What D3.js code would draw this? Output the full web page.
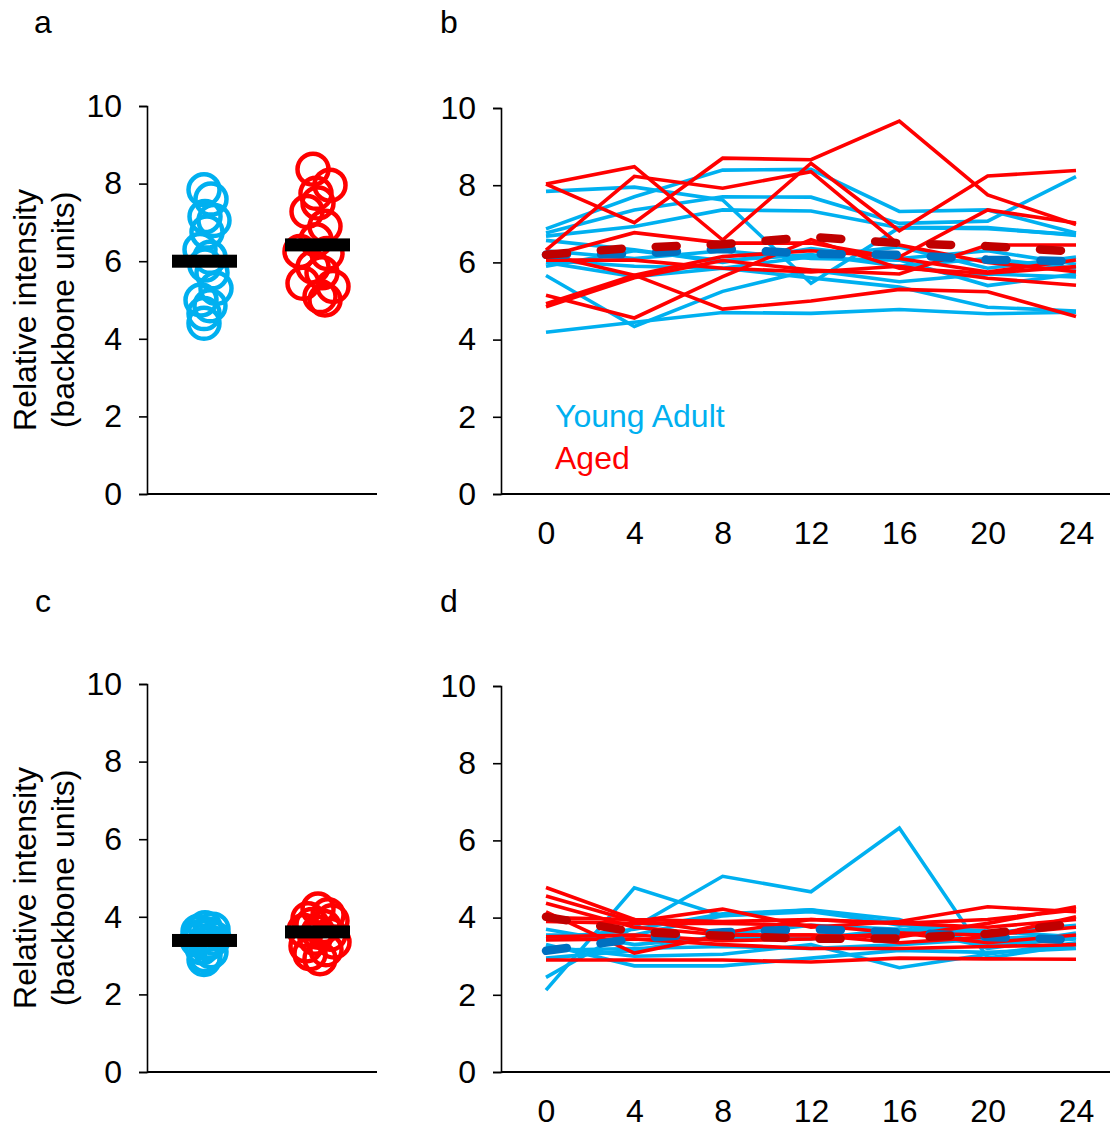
<!DOCTYPE html>
<html>
<head>
<meta charset="utf-8">
<script src="https://cdn.jsdelivr.net/npm/d3@7"></script>
<style>
  body { margin: 0; background: #fff; }
  text { font-family: "Liberation Sans", Arial, sans-serif; }
</style>
</head>
<body>
<svg id="fig" width="1113" height="1135"></svg>
<script>
// ---- data ---------------------------------------------------------------
const timePoints = [0, 4, 8, 12, 16, 20, 24];
const yTicks = [0, 2, 4, 6, 8, 10];
const groupNames = ["Young Adult", "Aged"];
const panelLetters = ["a", "b", "c", "d"];
const yTitle = ["Relative intensity", "(backbone units)"];

// per-animal averages, top row
const dotsYoungTop = [7.84, 7.6, 7.15, 7.05, 6.75, 6.3, 6.1, 5.9, 5.7, 5.3, 5.0, 4.85, 4.65, 4.4];
const dotsAgedTop  = [8.37, 7.96, 7.75, 7.5, 7.28, 6.9, 6.55, 6.25, 6.2, 5.85, 5.7, 5.43, 5.35, 5.09, 5.0];
const barYoungTop = 6.0;
const barAgedTop = 6.42;

// per-animal averages, bottom row
const dotsYoungBottom = [3.72, 3.68, 3.62, 3.55, 3.5, 3.45, 3.4, 3.3, 3.2, 3.1, 3.0, 2.9, 3.35, 3.6];
const dotsAgedBottom  = [4.2, 4.05, 3.95, 3.9, 3.8, 3.75, 3.65, 3.55, 3.45, 3.35, 3.25, 3.15, 3.05, 2.92, 3.6];
const barYoungBottom = 3.39;
const barAgedBottom = 3.61;

// time courses, top row (one array per animal, values at timePoints)
const youngTop = [
  [7.84, 7.95, 7.62, 5.46, 6.90, 6.87, 6.72],
  [6.87, 7.70, 8.39, 8.41, 7.32, 7.36, 6.76],
  [6.76, 7.36, 7.70, 7.69, 7.01, 7.07, 8.22],
  [6.68, 6.93, 7.36, 7.33, 6.90, 6.90, 6.70],
  [6.57, 6.33, 6.00, 6.36, 6.10, 6.30, 5.95],
  [6.05, 5.90, 5.85, 6.15, 6.40, 5.85, 6.14],
  [5.66, 4.34, 5.25, 5.80, 5.50, 5.70, 5.62],
  [4.19, 4.45, 4.70, 4.68, 4.78, 4.67, 4.71],
  [6.00, 5.63, 5.85, 5.60, 5.36, 4.84, 4.74],
  [6.30, 6.10, 6.30, 6.10, 6.06, 5.40, 5.70],
  [5.90, 6.30, 6.05, 6.20, 5.90, 6.10, 5.85]
];
const agedTop = [
  [8.03, 8.48, 6.58, 8.57, 6.82, 8.24, 8.38],
  [8.03, 7.03, 8.70, 8.66, 9.66, 7.75, 6.98],
  [6.32, 8.23, 7.92, 8.35, 6.45, 6.00, 5.76],
  [6.06, 6.06, 5.85, 5.75, 5.90, 5.59, 5.41],
  [6.15, 6.77, 6.50, 6.50, 6.10, 5.75, 6.06],
  [6.20, 5.67, 4.79, 5.00, 5.30, 5.24, 4.60],
  [5.15, 4.56, 5.63, 6.59, 5.85, 5.72, 5.89],
  [4.93, 5.67, 6.15, 6.30, 6.14, 7.36, 7.02],
  [4.85, 5.60, 6.05, 5.80, 5.70, 6.45, 6.45]
];
const meanYoungTop = [6.20, 6.22, 6.35, 6.22, 6.20, 6.07, 6.03];
const meanAgedTop  = [6.20, 6.38, 6.47, 6.66, 6.50, 6.42, 6.28];

// time courses, bottom row
const youngBottom = [
  [2.45, 3.75, 5.07, 4.67, 6.32, 2.95, 3.30],
  [2.12, 4.77, 4.05, 4.20, 3.95, 3.20, 3.50],
  [3.70, 3.30, 3.50, 3.45, 3.70, 3.25, 3.60],
  [3.55, 3.55, 4.05, 4.15, 3.85, 3.30, 3.45],
  [3.30, 2.75, 2.75, 2.95, 3.15, 3.10, 3.20],
  [3.25, 3.00, 3.05, 3.30, 2.70, 3.05, 3.35],
  [3.15, 3.20, 3.25, 3.20, 3.30, 3.45, 3.55],
  [2.95, 3.15, 3.55, 3.80, 3.70, 3.60, 3.80],
  [3.45, 3.70, 4.10, 4.20, 3.80, 3.65, 3.50]
];
const agedBottom = [
  [4.78, 3.95, 3.90, 3.95, 3.85, 3.95, 4.20],
  [4.56, 3.90, 4.22, 3.75, 3.90, 4.28, 4.15],
  [4.37, 3.75, 3.55, 3.55, 3.50, 3.85, 4.28],
  [4.15, 3.08, 3.55, 3.55, 3.35, 3.50, 4.02],
  [3.90, 3.85, 3.85, 3.80, 3.60, 3.35, 3.55],
  [3.42, 3.45, 3.30, 3.20, 3.20, 3.25, 3.30],
  [2.90, 2.90, 2.90, 2.85, 2.95, 2.93, 2.92],
  [3.50, 3.55, 3.40, 3.45, 3.60, 3.55, 3.75],
  [4.00, 3.95, 3.60, 3.95, 3.85, 3.75, 3.95]
];
const meanYoungBottom = [3.14, 3.45, 3.62, 3.70, 3.62, 3.50, 3.42];
const meanAgedBottom  = [4.02, 3.63, 3.53, 3.45, 3.46, 3.58, 3.85];

// ---- styling --------------------------------------------------------------
const BLUE = "#00B0F0", RED = "#FF0000", DARK_BLUE = "#0070C0", DARK_RED = "#C00000";
const FONT = 32;
// horizontal scatter of the circles inside each column (pixels)
const spreadYoungTop = [-1, 6, 0, 9, 2, -5, 5, 0, 7, 11, -4, 5, -1, -1];
const spreadAgedTop = [-5, 12, -2, 0, -11, 7, -2, -18, 9, -5, 4, -15, 15, 2, 7];
const spreadYoungBottom = [0, 8, -7, 4, -4, 9, -8, 2, -3, 6, 0, -1, 5, -6];
const spreadAgedBottom = [0, 10, -10, 14, -6, 6, -14, 12, -3, 16, -12, 8, -8, 2, 0];

const svg = d3.select("#fig");

function yAxis(g, y, x0) {
  const ax = g.append("g")
    .attr("transform", `translate(${x0},0)`)
    .call(d3.axisLeft(y).tickValues(yTicks).tickFormat(d3.format("d"))
      .tickSize(8).tickSizeOuter(8).tickPadding(17));
  ax.selectAll("path, line").attr("stroke", "#000").attr("stroke-width", 1.6);
  ax.selectAll("text").attr("font-size", FONT).attr("fill", "#000")
    .style("font-family", '"Liberation Sans", Arial, sans-serif');
}

function yLabel(g, cy) {
  const t = g.append("text")
    .attr("transform", `translate(36,${cy}) rotate(-90)`)
    .attr("text-anchor", "middle").attr("font-size", FONT).attr("fill", "#000");
  t.append("tspan").attr("x", 0).attr("y", 0).text(yTitle[0]);
  t.append("tspan").attr("x", 0).attr("y", 38).text(yTitle[1]);
}

function dotPanel(y0, y1, young, aged, spreadY, spreadA, barY, barA) {
  const g = svg.append("g");
  const y = d3.scaleLinear().domain([0, 10]).range([y0, y1]);
  const x = d3.scalePoint().domain(groupNames).range([205, 318]);
  yAxis(g, y, 147);
  g.append("line").attr("x1", 147).attr("x2", 377).attr("y1", y0).attr("y2", y0)
    .attr("stroke", "#000").attr("stroke-width", 2.2);
  const sets = [[young, spreadY, BLUE, groupNames[0]], [aged, spreadA, RED, groupNames[1]]];
  sets.forEach(([vals, spread, col, name]) => {
    g.append("g").selectAll("circle").data(vals).join("circle")
      .attr("cx", (d, i) => x(name) + spread[i])
      .attr("cy", d => y(d))
      .attr("r", 15.5)
      .attr("fill", "none").attr("stroke", col).attr("stroke-width", 4.5);
  });
  [[barY, groupNames[0]], [barA, groupNames[1]]].forEach(([v, name]) => {
    g.append("rect").attr("x", x(name) - 33).attr("width", 65)
      .attr("y", y(v) - 6.5).attr("height", 13).attr("fill", "#000");
  });
  return y;
}

function linePanel(y0, y1, young, aged, meanY, meanA, legend) {
  const g = svg.append("g");
  const y = d3.scaleLinear().domain([0, 10]).range([y0, y1]);
  const x = d3.scaleLinear().domain([0, 24]).range([546, 1076]);
  yAxis(g, y, 501);
  const xa = g.append("g").attr("transform", `translate(0,${y0})`)
    .call(d3.axisBottom(x).tickValues(timePoints).tickSize(0).tickPadding(27));
  xa.select(".domain").remove();
  xa.selectAll("text").attr("font-size", FONT).attr("fill", "#000")
    .style("font-family", '"Liberation Sans", Arial, sans-serif');
  g.append("line").attr("x1", 501).attr("x2", 1110).attr("y1", y0).attr("y2", y0)
    .attr("stroke", "#000").attr("stroke-width", 2.2);

  const line = d3.line().x((d, i) => x(timePoints[i])).y(d => y(d));
  g.append("g").selectAll("path").data(young).join("path")
    .attr("d", line).attr("fill", "none").attr("stroke", BLUE)
    .attr("stroke-width", 3.6).attr("stroke-linejoin", "miter");
  g.append("g").selectAll("path").data(aged).join("path")
    .attr("d", line).attr("fill", "none").attr("stroke", RED)
    .attr("stroke-width", 3.6).attr("stroke-linejoin", "miter");
  [[meanY, DARK_BLUE], [meanA, DARK_RED]].forEach(([m, col]) => {
    g.append("path").datum(m).attr("d", line).attr("fill", "none")
      .attr("stroke", col).attr("stroke-width", 8.5)
      .attr("stroke-linecap", "round").attr("stroke-dasharray", "21 34");
  });
  if (legend) {
    g.append("text").attr("x", 555).attr("y", 427).attr("font-size", FONT)
      .attr("fill", BLUE).text(groupNames[0]);
    g.append("text").attr("x", 555).attr("y", 469).attr("font-size", FONT)
      .attr("fill", RED).text(groupNames[1]);
  }
}

// ---- panels ----------------------------------------------------------------
dotPanel(494, 106, dotsYoungTop, dotsAgedTop, spreadYoungTop, spreadAgedTop, barYoungTop, barAgedTop);
yLabel(svg, 310);
linePanel(494, 108, youngTop, agedTop, meanYoungTop, meanAgedTop, true);

dotPanel(1072, 684, dotsYoungBottom, dotsAgedBottom, spreadYoungBottom, spreadAgedBottom, barYoungBottom, barAgedBottom);
yLabel(svg, 888);
linePanel(1072, 686, youngBottom, agedBottom, meanYoungBottom, meanAgedBottom, false);

const letterPos = [[43, 33], [449, 33], [43, 612], [449, 612]];
svg.selectAll("text.letter").data(panelLetters).join("text").attr("class", "letter")
  .attr("x", (d, i) => letterPos[i][0]).attr("y", (d, i) => letterPos[i][1])
  .attr("text-anchor", "middle").attr("font-size", FONT).attr("fill", "#000")
  .text(d => d);
</script>
</body>
</html>
